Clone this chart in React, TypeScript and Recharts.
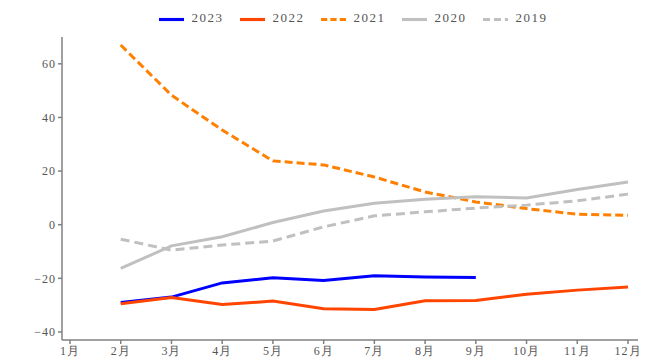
import { CartesianGrid, Legend, Line, LineChart, XAxis, YAxis } from "recharts";

const months = ["1月", "2月", "3月", "4月", "5月", "6月", "7月", "8月", "9月", "10月", "11月", "12月"];

const s2023 = [null, -29.0, -27.0, -21.7, -19.8, -20.8, -19.0, -19.5, -19.7, null, null, null];
const s2022 = [null, -29.5, -27.2, -29.8, -28.5, -31.3, -31.6, -28.4, -28.3, -25.9, -24.4, -23.2];
const s2021 = [null, 67.0, 48.3, 35.3, 23.8, 22.3, 17.8, 12.2, 8.5, 6.0, 3.9, 3.5];
const s2020 = [null, -16.3, -7.9, -4.5, 0.8, 5.1, 8.0, 9.5, 10.4, 10.0, 13.1, 15.9];
const s2019 = [null, -5.4, -9.5, -7.6, -6.1, -0.8, 3.3, 4.8, 6.2, 7.3, 8.9, 11.4];

const yTicks = [-40, -20, 0, 20, 40, 60];

const data = months.map((m, i) => ({
  month: m,
  y2023: s2023[i],
  y2022: s2022[i],
  y2021: s2021[i],
  y2020: s2020[i],
  y2019: s2019[i],
}));

const font = "'Liberation Serif', 'Times New Roman', serif";
const tickStyle = { fill: "#555", fontSize: 12, fontFamily: font, letterSpacing: 1 };

export default function App() {
  return (
    <div style={{ position: "absolute", left: 0, top: 0, background: "#fff" }}>
      <LineChart width={664} height={361} data={data} margin={{ top: 7, right: 26, bottom: 0, left: 0 }}>
        <CartesianGrid stroke="none" />
        <XAxis
          dataKey="month"
          padding={{ left: 8, right: 10 }}
          height={21}
          stroke="#808080"
          strokeWidth={1.5}
          tickSize={4}
          tick={tickStyle}
          interval={0}
        />
        <YAxis
          width={62}
          domain={[-43, 70]}
          ticks={yTicks}
          allowDataOverflow
          stroke="#808080"
          strokeWidth={1.5}
          tickSize={4}
          tick={tickStyle}
          tickFormatter={(v) => (v < 0 ? `\u2212${Math.abs(v)}` : `${v}`)}
        />
        <Legend
          verticalAlign="top"
          align="center"
          height={30}
          iconSize={25}
          itemSorter={(item) => -Number(item.value)}
          wrapperStyle={{ fontFamily: font, fontSize: 13, letterSpacing: 1.5, paddingLeft: 42 }}
          formatter={(value) => <span style={{ color: "#555", marginLeft: 4, marginRight: 6 }}>{value}</span>}
        />
        <Line name="2023" dataKey="y2023" stroke="#0000ff" strokeWidth={3} dot={false} legendType="plainline" isAnimationActive={false} />
        <Line name="2022" dataKey="y2022" stroke="#ff4500" strokeWidth={3} dot={false} legendType="plainline" isAnimationActive={false} />
        <Line name="2021" dataKey="y2021" stroke="#ff8000" strokeWidth={3} strokeDasharray="8 4" dot={false} legendType="plainline" isAnimationActive={false} />
        <Line name="2020" dataKey="y2020" stroke="#c0c0c0" strokeWidth={3} dot={false} legendType="plainline" isAnimationActive={false} />
        <Line name="2019" dataKey="y2019" stroke="#c0c0c0" strokeWidth={3} strokeDasharray="9 5" dot={false} legendType="plainline" isAnimationActive={false} />
      </LineChart>
    </div>
  );
}
